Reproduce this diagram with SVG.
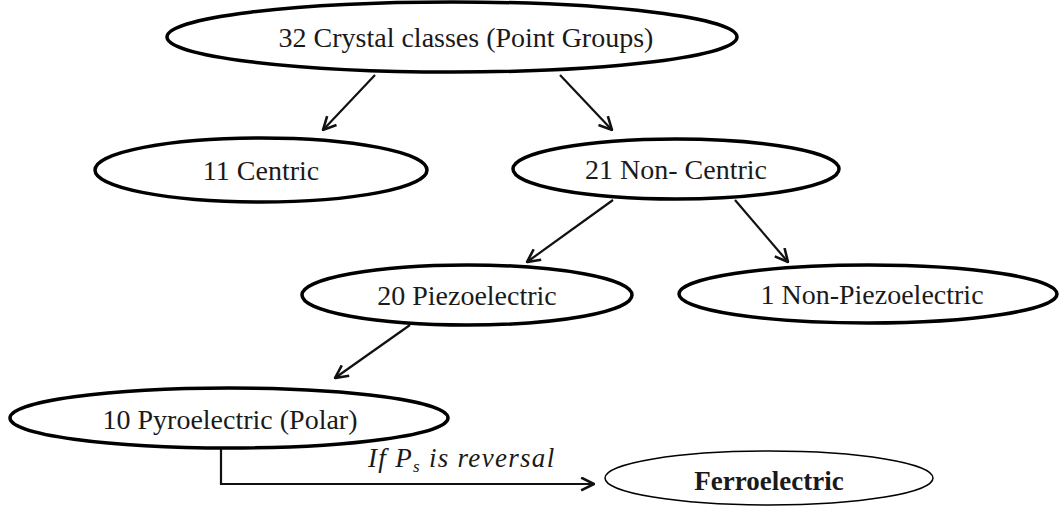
<svg xmlns="http://www.w3.org/2000/svg" width="1060" height="506" viewBox="0 0 1060 506">
<style>
.node ellipse{fill:#fff;stroke:#000;stroke-width:3.5}
.node text{font-family:"Liberation Serif","Times New Roman",serif;font-size:28px;fill:#1a1a1a;text-anchor:middle}
#ferro ellipse{stroke-width:1.5}
#ferro text{font-weight:bold;font-size:27px}
.conn line,.conn path{stroke:#111;stroke-width:2.2;fill:none;marker-end:url(#arr)}
.lbl{font-family:"Liberation Serif","Times New Roman",serif;font-style:italic;font-size:27px;letter-spacing:1.3px;fill:#1a1a1a}
</style>
<defs>
<marker id="arr" viewBox="0 0 14 14" refX="13" refY="7" markerWidth="15" markerHeight="15" markerUnits="userSpaceOnUse" orient="auto">
<path d="M1,1 L13,7 L1,13" fill="none" stroke="#111" stroke-width="2.4"/>
</marker>
</defs>
<rect width="1060" height="506" fill="#fff"/>
<g id="connectors" class="conn">
<line x1="375" y1="75" x2="323" y2="130"/>
<line x1="560" y1="75" x2="612" y2="130"/>
<line x1="613" y1="200" x2="527" y2="262"/>
<line x1="735" y1="200" x2="788" y2="262"/>
<line x1="410" y1="325" x2="335" y2="378"/>
<path d="M221,448 V484 H594"/>
</g>
<text class="lbl" x="368" y="467">If P<tspan font-size="17" dy="5">s</tspan><tspan dy="-5"> is reversal</tspan></text>
<g id="root" class="node"><ellipse cx="452" cy="37" rx="285" ry="35"/><text x="466" y="47">32 Crystal classes (Point Groups)</text></g>
<g id="centric" class="node"><ellipse cx="261" cy="170" rx="166" ry="32"/><text x="261" y="180">11 Centric</text></g>
<g id="noncentric" class="node"><ellipse cx="676" cy="169" rx="163" ry="30"/><text x="676" y="179">21 Non- Centric</text></g>
<g id="piezo" class="node"><ellipse cx="467" cy="295" rx="165" ry="30"/><text x="467" y="305">20 Piezoelectric</text></g>
<g id="nonpiezo" class="node"><ellipse cx="868" cy="294" rx="189" ry="29"/><text x="872" y="304">1 Non-Piezoelectric</text></g>
<g id="pyro" class="node"><ellipse cx="229" cy="418" rx="219" ry="30"/><text x="230" y="429">10 Pyroelectric (Polar)</text></g>
<g id="ferro" class="node"><ellipse cx="769" cy="478" rx="164" ry="27"/><text x="769" y="490">Ferroelectric</text></g>
</svg>
